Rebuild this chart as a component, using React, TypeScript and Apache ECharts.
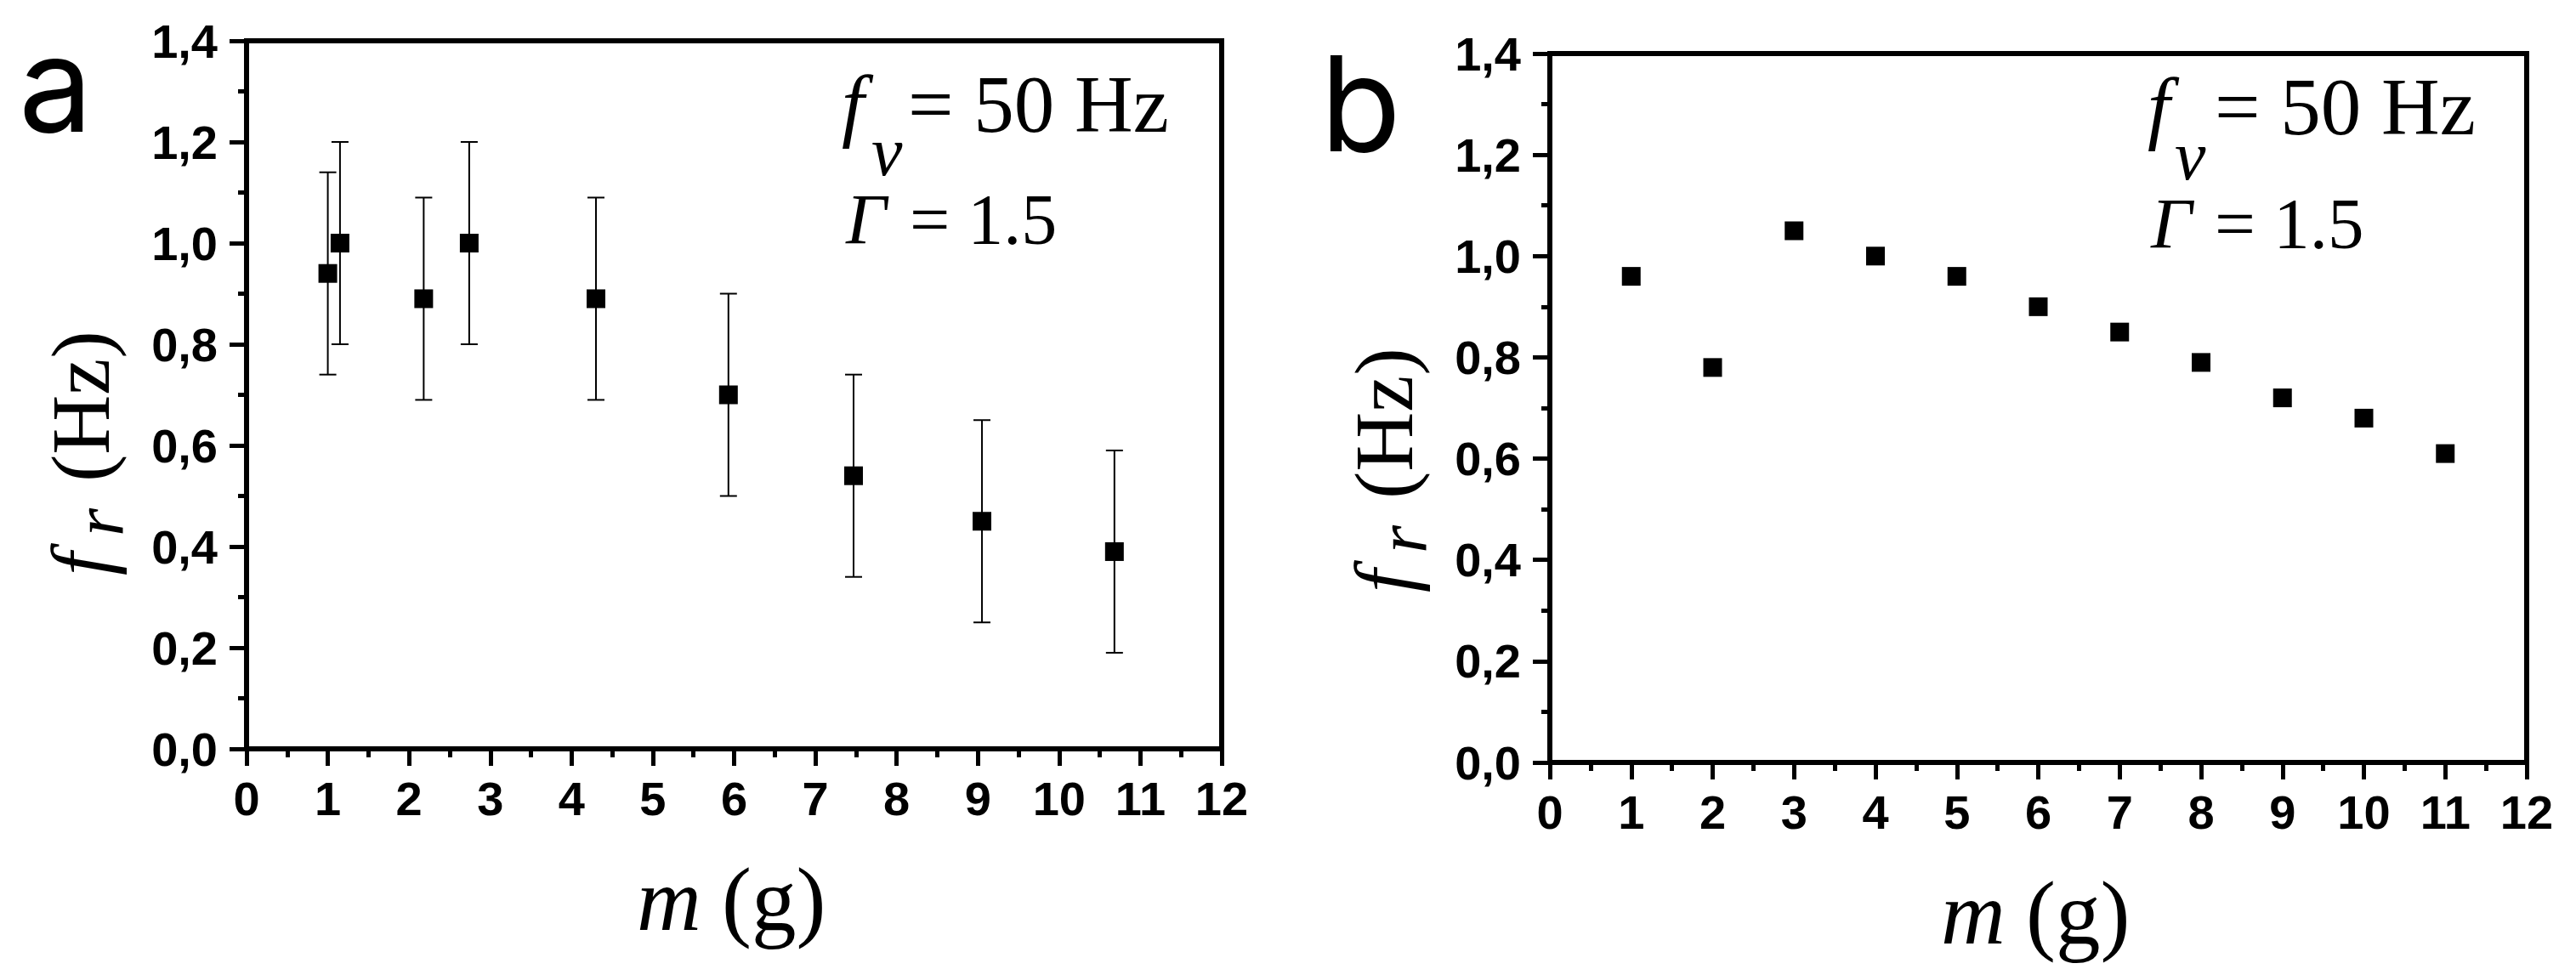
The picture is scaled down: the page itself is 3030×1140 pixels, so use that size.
import React, { useEffect, useRef } from "react";
import * as echarts from "echarts";

// ---- Data (panel a) ----
const massA = [1.0, 1.15, 2.18, 2.74, 4.3, 5.93, 7.47, 9.05, 10.68];
const freqA = [0.94, 1.0, 0.89, 1.0, 0.89, 0.7, 0.54, 0.45, 0.39];
const errA = [0.2, 0.2, 0.2, 0.2, 0.2, 0.2, 0.2, 0.2, 0.2];

// ---- Data (panel b) ----
const massB = [1, 2, 3, 4, 5, 6, 7, 8, 9, 10, 11];
const freqB = [0.96, 0.78, 1.05, 1.0, 0.96, 0.9, 0.85, 0.79, 0.72, 0.68, 0.61];

const SERIF = '"Liberation Serif", "Times New Roman", serif';
const SANS = '"Liberation Sans", Arial, sans-serif';
const PANEL = 'Inter, "Open Sans", sans-serif';

function txt(text: string, x: number, baseline: number, fs: number, opts: any = {}) {
  const family = opts.family || SERIF;
  const k = opts.k ?? 0.3375;
  return {
    type: "text",
    silent: true,
    style: {
      text,
      x,
      y: baseline - k * fs,
      fontSize: fs,
      fontFamily: family,
      fontStyle: opts.italic ? "italic" : "normal",
      fontWeight: opts.bold ? "bold" : "normal",
      lineHeight: opts.lh ?? fs,
      fill: "#000",
      textAlign: opts.align || "left",
      textVerticalAlign: "middle",
      align: opts.align || "left",
      verticalAlign: "middle",
    },
  };
}

function yTitle(x: number, y: number) {
  return {
    type: "group",
    x,
    y,
    rotation: Math.PI / 2,
    children: [
      txt("f", 0, 0, 97, { italic: true, lh: 60 }),
      txt("r", 46, 17, 85, { italic: true, lh: 50 }),
      txt("(Hz)", 110, 0, 97),
    ],
  };
}

const yFmt = (v: number) => v.toFixed(1).replace(".", ",");
const xFmt = (v: number) => String(Math.round(v));

const tickLabelStyle = {
  color: "#000",
  fontFamily: SANS,
  fontWeight: "bold",
  fontSize: 56,
};

function xAxes(gridIndex: number) {
  const common = {
    type: "value",
    gridIndex,
    min: 0,
    max: 12,
    interval: 1,
    splitLine: { show: false },
    axisLine: { show: true, lineStyle: { color: "#000", width: 6 } },
    minorTick: { show: true, splitNumber: 2, length: 10, lineStyle: { color: "#000", width: 5 } },
  };
  return [
    {
      ...common,
      position: "bottom",
      axisTick: { show: true, length: 20, inside: false, lineStyle: { color: "#000", width: 5 } },
      axisLabel: { show: true, margin: 30, formatter: xFmt, ...tickLabelStyle },
    },
    {
      ...common,
      position: "top",
      axisTick: { show: true, length: 20, inside: true, lineStyle: { color: "#000", width: 5 } },
      axisLabel: { show: false },
    },
  ];
}

function yAxes(gridIndex: number) {
  const common = {
    type: "value",
    gridIndex,
    min: 0,
    max: 1.4,
    interval: 0.2,
    splitLine: { show: false },
    axisLine: { show: true, lineStyle: { color: "#000", width: 6 } },
    minorTick: { show: true, splitNumber: 2, length: 10, lineStyle: { color: "#000", width: 5 } },
  };
  return [
    {
      ...common,
      position: "left",
      axisTick: { show: true, length: 20, inside: false, lineStyle: { color: "#000", width: 5 } },
      axisLabel: { show: true, margin: 34, formatter: yFmt, ...tickLabelStyle },
    },
    {
      ...common,
      position: "right",
      axisTick: { show: true, length: 20, inside: true, lineStyle: { color: "#000", width: 5 } },
      axisLabel: { show: false },
    },
  ];
}

export default function App() {
  const ref = useRef<HTMLDivElement>(null);

  useEffect(() => {
    if (!ref.current) return;
    const chart = echarts.init(ref.current, undefined, { renderer: "svg" });

    const errData = massA.map((m, i) => [m, freqA[i], errA[i]]);
    const ptsA = massA.map((m, i) => [m, freqA[i]]);
    const ptsB = massB.map((m, i) => [m, freqB[i]]);

    const gridStyle = {
      show: true,
      borderColor: "#000",
      borderWidth: 6,
      backgroundColor: "transparent",
      containLabel: false,
    };

    const markStyle = { color: "#000", opacity: 1 };

    const option: any = {
      animation: false,
      backgroundColor: "#fff",
      grid: [
        { ...gridStyle, left: 290, top: 48, width: 1147, height: 833 },
        { ...gridStyle, left: 1823, top: 63, width: 1149, height: 834 },
      ],
      xAxis: [...xAxes(0), ...xAxes(1)],
      yAxis: [...yAxes(0), ...yAxes(1)],
      series: [
        {
          type: "custom",
          xAxisIndex: 0,
          yAxisIndex: 0,
          data: errData,
          z: 2,
          renderItem: (params: any, api: any) => {
            const x = api.value(0);
            const y = api.value(1);
            const e = api.value(2);
            const top = api.coord([x, y + e]);
            const bot = api.coord([x, y - e]);
            const w = 10;
            const st = { stroke: "#000", lineWidth: 2 };
            return {
              type: "group",
              children: [
                { type: "line", shape: { x1: top[0], y1: top[1], x2: bot[0], y2: bot[1] }, style: st },
                { type: "line", shape: { x1: top[0] - w, y1: top[1], x2: top[0] + w, y2: top[1] }, style: st },
                { type: "line", shape: { x1: bot[0] - w, y1: bot[1], x2: bot[0] + w, y2: bot[1] }, style: st },
              ],
            };
          },
        },
        {
          type: "scatter",
          xAxisIndex: 0,
          yAxisIndex: 0,
          data: ptsA,
          symbol: "rect",
          symbolSize: 22,
          z: 3,
          itemStyle: markStyle,
        },
        {
          type: "scatter",
          xAxisIndex: 2,
          yAxisIndex: 2,
          data: ptsB,
          symbol: "rect",
          symbolSize: 22,
          z: 3,
          itemStyle: markStyle,
        },
      ],
      graphic: [
        // panel letters
        txt("a", 22, 155, 155, { family: PANEL, k: 0.3635, lh: 120 }),
        txt("b", 1553, 178, 155, { family: PANEL, k: 0.3635, lh: 120 }),
        // annotations panel a
        txt("f", 990, 155, 95, { italic: true, lh: 55 }),
        txt("v", 1025, 206, 82, { italic: true, lh: 50 }),
        txt("= 50 Hz", 1068, 155, 95, { lh: 80 }),
        txt("Γ", 995, 287, 84, { italic: true, lh: 70 }),
        txt("= 1.5", 1070, 287, 84, { lh: 70 }),
        // annotations panel b
        txt("f", 2526, 158, 95, { italic: true, lh: 55 }),
        txt("v", 2558, 211, 82, { italic: true, lh: 50 }),
        txt("= 50 Hz", 2605, 158, 95, { lh: 80 }),
        txt("Γ", 2530, 292, 85, { italic: true, lh: 70 }),
        txt("= 1.5", 2605, 292, 85, { lh: 70 }),
        // x titles
        txt("m", 749, 1094, 105, { italic: true }),
        txt("(g)", 849, 1094, 105),
        txt("m", 2283, 1110, 105, { italic: true }),
        txt("(g)", 2383, 1110, 105),
        // y titles
        yTitle(128, 677),
        yTitle(1661, 697),
      ],
    };

    chart.setOption(option);
    return () => chart.dispose();
  }, []);

  return (
    <div
      ref={ref}
      style={{ position: "fixed", left: 0, top: 0, width: 3030, height: 1140, background: "#fff" }}
    />
  );
}
